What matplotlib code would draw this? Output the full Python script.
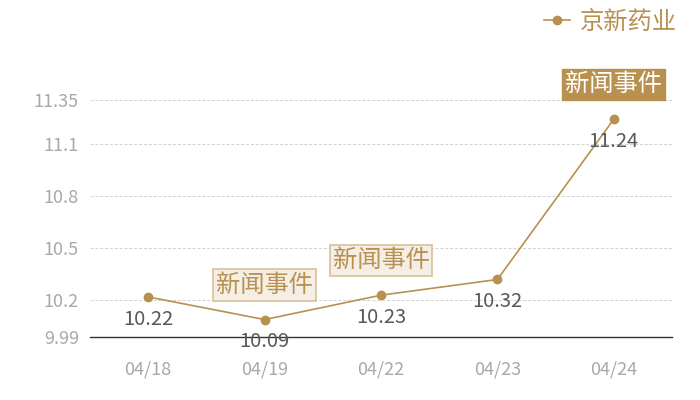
import matplotlib
matplotlib.use("Agg")
import matplotlib.pyplot as plt

plt.rcParams['font.family'] = ['Noto Sans CJK SC', 'DejaVu Sans']

# data
dates = ["04/18", "04/19", "04/22", "04/23", "04/24"]
prices = [10.22, 10.09, 10.23, 10.32, 11.24]
event_dates = ["04/19", "04/22", "04/24"]
event_label = "新闻事件"
series_name = "京新药业"
y_ticks = [9.99, 10.2, 10.5, 10.8, 11.1, 11.35]

GOLD = "#b8904f"

fig = plt.figure(figsize=(7, 4), dpi=100)
ax = fig.add_axes([0.1286, 0.1575, 0.8314, 0.5925])

x = list(range(len(dates)))
ax.plot(x, prices, color=GOLD, lw=1.2, marker="o", ms=6, label=series_name,
        clip_on=False, zorder=3)

# value labels under points
for i, v in zip(x, prices):
    ax.annotate(f"{v:.2f}", (i, v), xytext=(0, -16), textcoords="offset points",
                ha="center", va="center", fontsize=14.5, color="#595959", zorder=4)

# event boxes
for d in event_dates:
    i = dates.index(d)
    last = i == len(dates) - 1
    if last:
        box = dict(boxstyle="square,pad=0.12", fc=GOLD, ec=GOLD)
        tc = "white"
    else:
        box = dict(boxstyle="square,pad=0.12", fc="#f4eee5", ec="#d8c09a", lw=1.2)
        tc = GOLD
    ax.annotate(event_label, (i, prices[i]), xytext=(0, 25), textcoords="offset points",
                ha="center", va="center", fontsize=17.5, color=tc, bbox=box,
                annotation_clip=False, zorder=5)

ax.set_xlim(-0.5, len(dates) - 0.5)
ax.set_ylim(y_ticks[0], y_ticks[-1])
ax.set_xticks(x)
ax.set_xticklabels(dates)
ax.set_yticks(y_ticks)
ax.set_yticklabels([f"{t:g}" for t in y_ticks])

for t in y_ticks[1:]:
    ax.axhline(t, color="#d0d0d0", lw=0.7, ls=(0, (3, 2)), zorder=1)

for s in ["top", "right", "left"]:
    ax.spines[s].set_visible(False)
ax.spines["bottom"].set_color("#333333")
ax.spines["bottom"].set_linewidth(1.0)
ax.tick_params(length=0, labelsize=13, labelcolor="#a8a8a8")
ax.tick_params(axis="x", pad=17)
ax.tick_params(axis="y", pad=8)

ax.legend(loc="upper right", bbox_to_anchor=(0.983, 1.005), bbox_transform=fig.transFigure,
          frameon=False, fontsize=17.5, labelcolor=GOLD, handlelength=1.1,
          handletextpad=0.4, borderaxespad=0.05)

fig.savefig("out.png", dpi=100)
